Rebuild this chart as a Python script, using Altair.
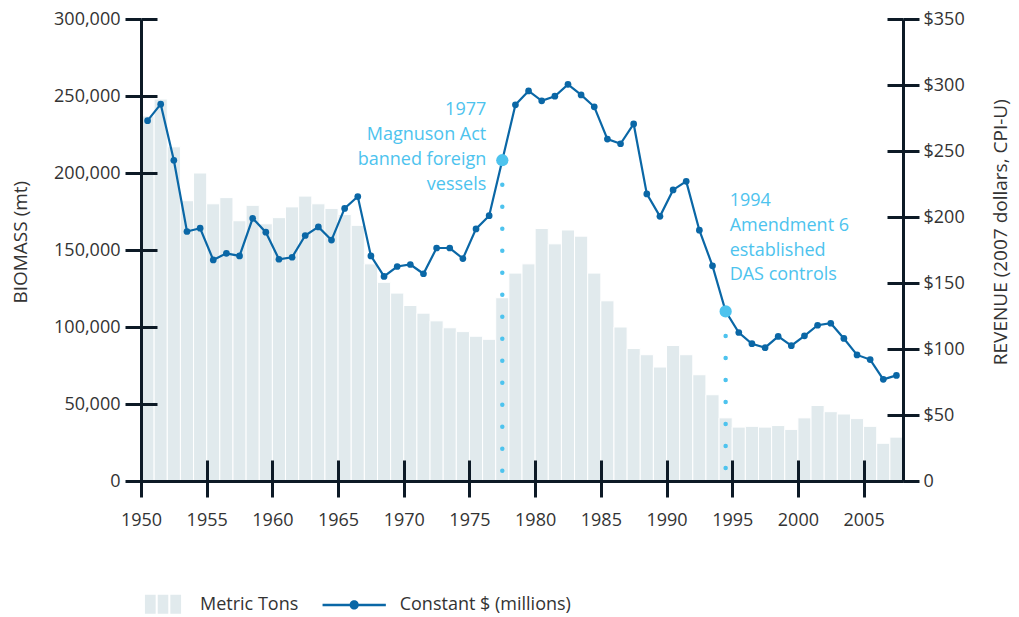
import altair as alt
import pandas as pd

# ---------------- data ----------------
years = list(range(1950, 2008))
metric_tons = [
    237000, 248000, 217000, 182000, 200000, 180000, 184000, 169000, 179000, 167000,
    171000, 178000, 185000, 180000, 177000, 173000, 166000, 141000, 129000, 122000,
    114000, 109000, 104000, 99500, 97000, 94000, 92000, 119000, 135000, 141000,
    164000, 154000, 163000, 159000, 135000, 117000, 100000, 86000, 82000, 74000,
    88000, 82000, 69000, 56000, 41000, 35000, 35500, 35000, 36000, 33500,
    41000, 49000, 45000, 43500, 40500, 35500, 24500, 28500,
]
revenue = [
    273, 285.5, 243, 189, 191.5, 167.5, 172.5, 170.5, 199, 188.5,
    168, 169.5, 186, 192.5, 182.5, 206.5, 215.5, 170.5, 155, 162.5,
    164, 157, 176.5, 176.5, 168.5, 191, 201, 243, 285, 295.5,
    288, 291.5, 300.5, 292.5, 283.5, 259, 255.5, 270.5, 217.5, 200.5,
    220.5, 227, 190, 163, 128.5, 112.5, 104, 101, 109.5, 102.5,
    110, 118, 119.5, 108, 95.5, 92, 77, 80,
]
ann_years = [1977, 1994]
ann_text = [
    "1977\nMagnuson Act\nbanned foreign\nvessels",
    "1994\nAmendment 6\nestablished\nDAS controls",
]
x_ticks = list(range(1950, 2006, 5))
left_ticks = list(range(0, 300001, 50000))
right_ticks = list(range(0, 351, 50))
bar_series = "Metric Tons"
line_series = "Constant $ (millions)"

# ---------------- styles ----------------
FONT = "Open Sans"
NAVY = "#0d1a26"
LABEL = "#333333"
BAR = "#e1eaed"
BLUE = "#0a67a6"
LIGHT = "#4dc3ee"

df = pd.DataFrame({"year": years, "tons": metric_tons, "revenue": revenue})
df["year_end"] = df["year"] + 1
df["xmid"] = df["year"] + 0.5
df["zero"] = 0
df["bar_series"] = bar_series
df["line_series"] = line_series

rev_by_year = dict(zip(years, revenue))
ann = pd.DataFrame({
    "year": ann_years,
    "revenue": [rev_by_year[y] for y in ann_years],
    "label": ann_text,
})
ann["xmid"] = ann["year"] + 0.5
ann["zero"] = 0

xscale = alt.Scale(domain=[1950, 2008], nice=False, zero=False)
lscale = alt.Scale(domain=[0, 300000], nice=False)
rscale = alt.Scale(domain=[0, 350], nice=False)

x_axis = alt.Axis(
    values=x_ticks, format="d", title=None, domain=False,
    tickSize=37, tickWidth=3, tickColor=NAVY, offset=-21,
    labelPadding=14, labelFontSize=18, labelFont=FONT, labelColor=LABEL,
    labelFlush=False, grid=False, zindex=1,
)

common_y = dict(
    domain=True, domainWidth=3, domainColor=NAVY,
    tickSize=16, tickWidth=3, tickColor=NAVY,
    grid=True, gridColor=NAVY, gridWidth=3,
    labelFontSize=18, labelFont=FONT, labelColor=LABEL,
    titleFontSize=19, titleFont=FONT, titleColor=LABEL, titleFontWeight="normal",
    titleAngle=270, titleBaseline="alphabetic", titleAlign="center",
    zindex=1,
)

left_axis = alt.Axis(
    orient="left", values=left_ticks, format=",d", title="BIOMASS (mt)",
    gridDash={"condition": {"test": "datum.value === 0", "value": []}, "value": [16, 2000]},
    labelPadding=5, titleX=-115, titleY=222.7, **common_y,
)
right_axis = alt.Axis(
    orient="right", values=right_ticks,
    labelExpr="datum.value === 0 ? '0' : '$' + datum.value",
    title="REVENUE (2007 dollars, CPI-U)",
    gridDash=[16, 2000], labelPadding=4, titleX=103, titleY=212.7, **common_y,
)

BAR_PATH = ("M-1,-0.6H-0.35V0.49H-1Z M-0.32,-0.6H0.32V0.49H-0.32Z "
            "M0.35,-0.6H1V0.49H0.35Z")
LINE_PATH = ("M-1,-0.04H1V0.04H-1Z M0.145,0A0.145,0.145,0,1,1,-0.145,0"
             "A0.145,0.145,0,1,1,0.145,0Z")

X = lambda f: alt.X(f, scale=xscale, axis=x_axis)
YR = lambda: alt.Y("revenue:Q", scale=rscale, axis=right_axis)

bars = alt.Chart(df).mark_rect(stroke="white", strokeWidth=1).encode(
    x=X("year:Q"),
    x2="year_end:Q",
    y=alt.Y("tons:Q", scale=lscale, axis=left_axis),
    y2="zero:Q",
    color=alt.Color(
        "bar_series:N",
        scale=alt.Scale(domain=[bar_series], range=[BAR]),
        legend=alt.Legend(
            orient="none", legendX=2, legendY=566.2, title=None,
            symbolType=BAR_PATH, symbolSize=1421, labelOffset=17,
            labelFontSize=18, labelFont=FONT, labelColor=LABEL, padding=0,
            labelLimit=400,
        ),
    ),
)

rules = alt.Chart(ann).mark_rule(
    color=LIGHT, strokeWidth=4.5, strokeDash=[0, 22], strokeCap="round", strokeDashOffset=19.5
).encode(
    x=X("xmid:Q"),
    y=YR(),
    y2="zero:Q",
)

line = alt.Chart(df).mark_line(color=BLUE, strokeWidth=2.2).encode(
    x=X("xmid:Q"),
    y=YR(),
)

points = alt.Chart(df).mark_circle(size=45, opacity=1).encode(
    x=X("xmid:Q"),
    y=YR(),
    color=alt.Color(
        "line_series:N",
        scale=alt.Scale(domain=[line_series], range=[BLUE]),
        legend=alt.Legend(
            orient="none", legendX=180.7, legendY=553.4, title=None,
            symbolType=LINE_PATH, symbolSize=4007, labelOffset=13,
            labelFontSize=18, labelFont=FONT, labelColor=LABEL, padding=0,
            labelLimit=400,
        ),
    ),
)

highlight = alt.Chart(ann).mark_circle(size=150, color=LIGHT, opacity=1).encode(
    x=X("xmid:Q"),
    y=YR(),
)

text_common = dict(baseline="alphabetic", lineBreak="\n", lineHeight=24.8,
                   fontSize=18, font=FONT, color=LIGHT)

text1 = alt.Chart(ann).transform_filter("datum.year === 1977").mark_text(
    align="right", dx=-16, dy=-45, **text_common
).encode(
    x=X("xmid:Q"),
    y=YR(),
    text="label:N",
)
text2 = alt.Chart(ann).transform_filter("datum.year === 1994").mark_text(
    align="left", dx=4, dy=-105.3, **text_common
).encode(
    x=X("xmid:Q"),
    y=YR(),
    text="label:N",
)

inner = alt.layer(rules, line, points, highlight, text1, text2)

chart = alt.layer(bars, inner).resolve_scale(
    y="independent", color="independent"
).properties(
    width=762, height=462,
    padding={"left": 133, "top": 11, "right": 108, "bottom": 136},
    autosize=alt.AutoSizeParams(type="none"),
).configure_view(stroke=None)

chart.save("out.html", embed_options={"renderer": "svg", "actions": False})
